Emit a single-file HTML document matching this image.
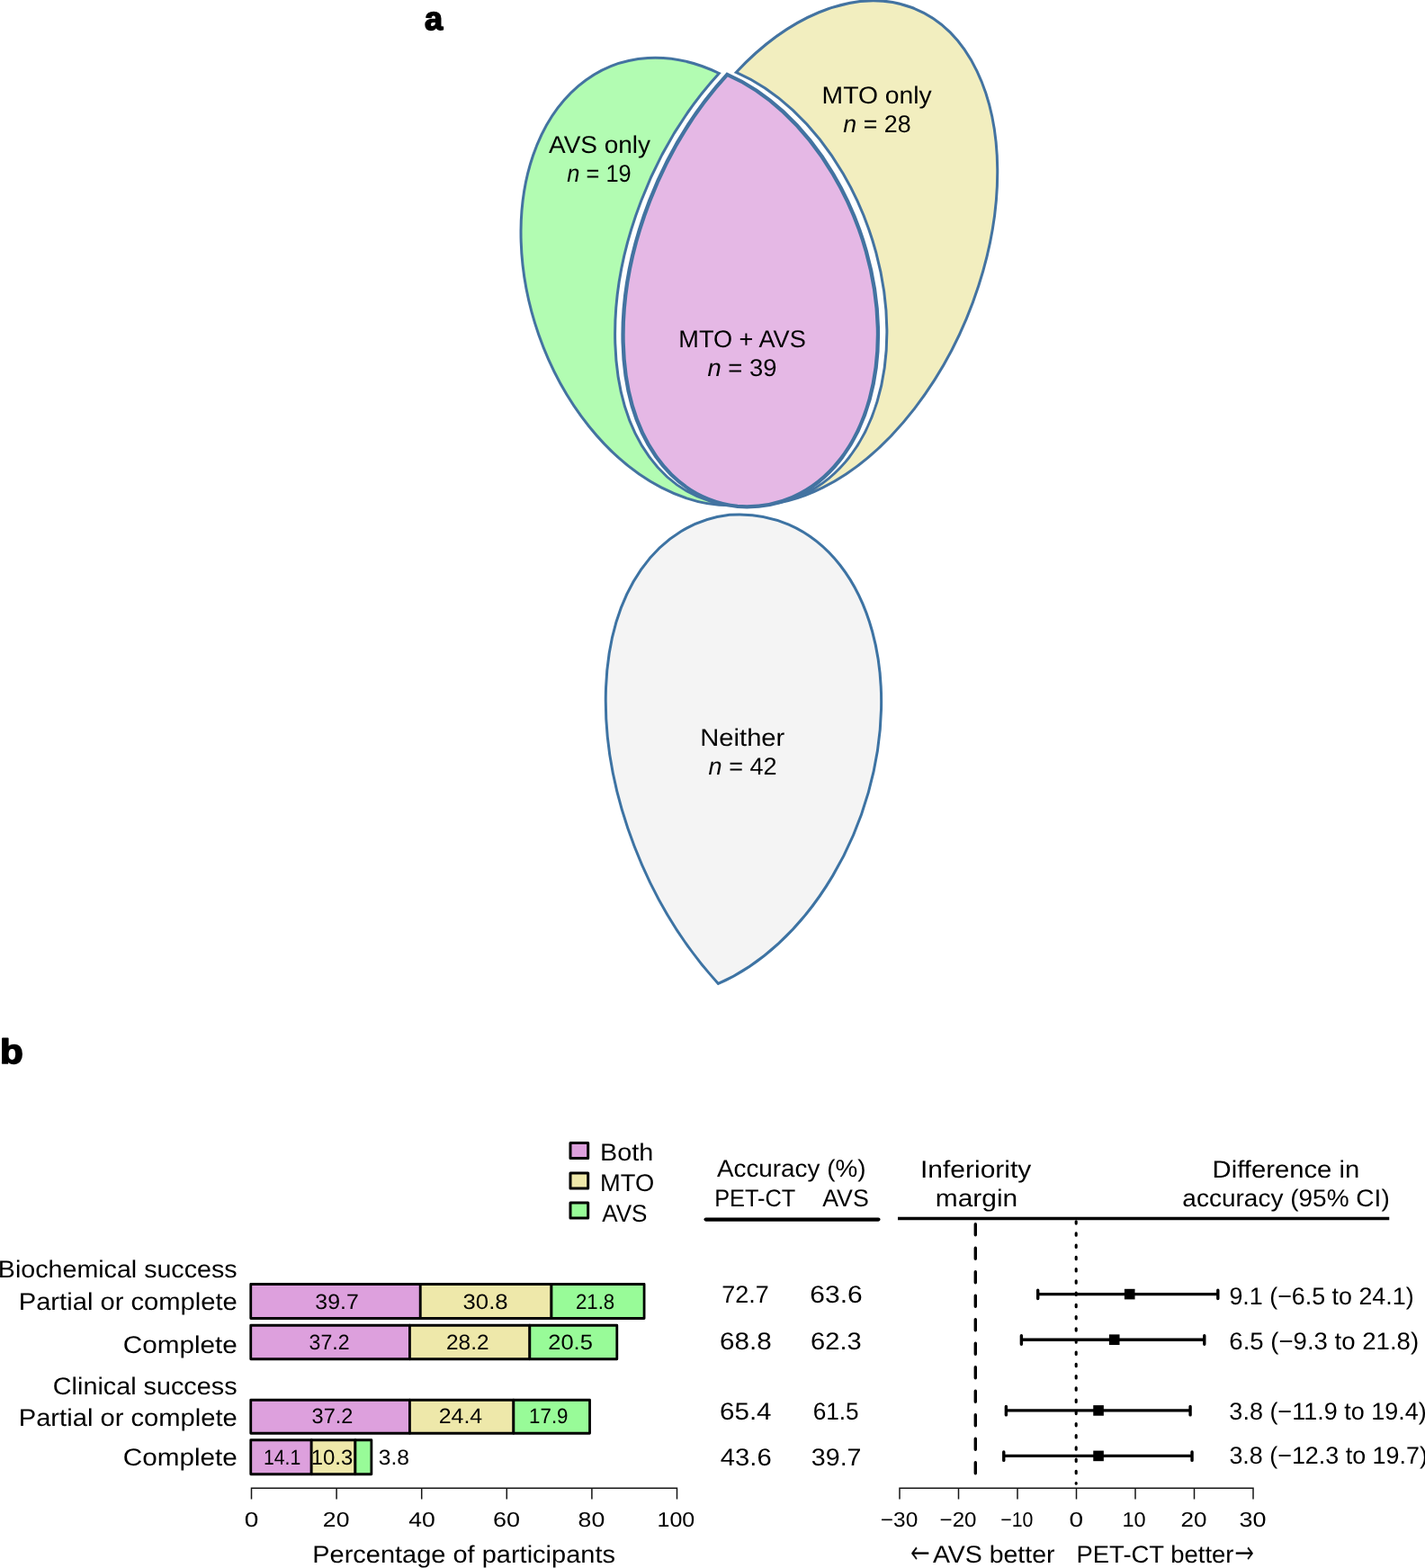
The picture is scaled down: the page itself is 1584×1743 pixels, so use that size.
<!DOCTYPE html>
<html lang="en">
<head>
<meta charset="utf-8">
<title>Figure</title>
<style>
html,body{margin:0;padding:0;background:#fff;}
body{width:1584px;height:1743px;overflow:hidden;}
svg{display:block;}
text{font-family:"Liberation Sans",sans-serif;fill:#000;text-rendering:geometricPrecision;}
</style>
</head>
<body>
<svg width="1584" height="1743" viewBox="0 0 1584 1743">
<rect width="1584" height="1743" fill="#fff"/>
<path d="M799.32 81.48A256.12 180.91 70.467 1 0 814.38 561.83A300.64 191.64 114.313 0 1 799.32 81.48Z" transform="translate(0.00 0.00)" fill="#b2fcb2" stroke="#4373a1" stroke-width="3.00" stroke-linejoin="miter" stroke-miterlimit="10"/>
<path d="M818.26 80.41A293.10 183.67 112.198 1 1 821.95 559.67A254.37 177.85 70.535 0 0 818.26 80.41Z" transform="translate(0.00 0.00)" fill="#f2eebf" stroke="#4373a1" stroke-width="3.00" stroke-linejoin="miter" stroke-miterlimit="10"/>
<path d="M808.31 82.89A300.64 191.64 114.313 0 0 819.86 562.97A254.37 177.85 70.535 0 0 808.31 82.89Z" fill="#e5b8e5" stroke="#4373a1" stroke-width="4.30" stroke-linejoin="miter" stroke-miterlimit="10"/>
<path d="M808.31 82.89A300.64 191.64 114.313 0 0 819.86 562.97A254.37 177.85 70.535 0 0 808.31 82.89Z" transform="translate(-75.38 1183.48) scale(1.0810 -1.0856)" fill="#f4f4f4" stroke="#3d73a3" stroke-width="3.00" stroke-linejoin="miter" stroke-miterlimit="10" vector-effect="non-scaling-stroke"/>
<text transform="translate(471.95 32.54) scale(1.0022 1)" font-size="36.13" font-weight="700" stroke="#000" stroke-width="1.60" stroke-linejoin="round">a</text>
<text transform="translate(-0.09 1181.62) scale(1.1054 1)" font-size="38.23" font-weight="700" stroke="#000" stroke-width="1.60" stroke-linejoin="round">b</text>
<text transform="translate(610.04 170.30) scale(1.0363 1.0000)" font-size="27.00">AVS only</text>
<text transform="translate(630.32 202.30) scale(0.9414 1.0000)" font-size="27.00"><tspan font-style="italic">n</tspan> = 19</text>
<text transform="translate(913.58 115.00) scale(1.0484 1.0000)" font-size="27.00">MTO only</text>
<text transform="translate(937.33 147.10) scale(0.9921 1.0000)" font-size="27.00"><tspan font-style="italic">n</tspan> = 28</text>
<text transform="translate(754.28 385.70) scale(1.0047 1.0000)" font-size="27.00">MTO + AVS</text>
<text transform="translate(786.49 417.90) scale(1.0156 1.0000)" font-size="27.00"><tspan font-style="italic">n</tspan> = 39</text>
<text transform="translate(778.31 829.00) scale(1.0797 1.0000)" font-size="27.00">Neither</text>
<text transform="translate(787.62 861.20) scale(1.0016 1.0000)" font-size="27.00"><tspan font-style="italic">n</tspan> = 42</text>
<rect x="634" y="1270.60" width="19.7" height="16.9" fill="#dda0dd" stroke="#000" stroke-width="3" stroke-linejoin="round"/>
<text transform="translate(666.94 1290.10) scale(1.0665 1.0000)" font-size="27.00">Both</text>
<rect x="634" y="1304.10" width="19.7" height="16.9" fill="#eee8aa" stroke="#000" stroke-width="3" stroke-linejoin="round"/>
<text transform="translate(667.06 1323.60) scale(1.0108 1.0000)" font-size="27.00">MTO</text>
<rect x="634" y="1337.10" width="19.7" height="16.9" fill="#98fb98" stroke="#000" stroke-width="3" stroke-linejoin="round"/>
<text transform="translate(669.25 1357.70) scale(0.9658 1.0000)" font-size="27.00">AVS</text>
<text transform="translate(-2.15 1419.55) scale(1.0602 1.0000)" font-size="27.00">Biochemical success</text>
<text transform="translate(20.71 1455.80) scale(1.0799 1.0000)" font-size="27.00">Partial or complete</text>
<text transform="translate(136.79 1503.80) scale(1.0992 1.0000)" font-size="27.00">Complete</text>
<text transform="translate(58.83 1550.10) scale(1.0659 1.0000)" font-size="27.00">Clinical success</text>
<text transform="translate(20.71 1585.30) scale(1.0799 1.0000)" font-size="27.00">Partial or complete</text>
<text transform="translate(136.79 1628.80) scale(1.0992 1.0000)" font-size="27.00">Complete</text>
<rect x="278.75" y="1427.50" width="188.53" height="38.00" fill="#dda0dd" stroke="#000" stroke-width="2.8" stroke-linejoin="round"/>
<rect x="467.28" y="1427.50" width="145.68" height="38.00" fill="#eee8aa" stroke="#000" stroke-width="2.8" stroke-linejoin="round"/>
<rect x="612.97" y="1427.50" width="103.11" height="38.00" fill="#98fb98" stroke="#000" stroke-width="2.8" stroke-linejoin="round"/>
<rect x="278.75" y="1473.25" width="176.71" height="37.50" fill="#dda0dd" stroke="#000" stroke-width="2.8" stroke-linejoin="round"/>
<rect x="455.46" y="1473.25" width="133.39" height="37.50" fill="#eee8aa" stroke="#000" stroke-width="2.8" stroke-linejoin="round"/>
<rect x="588.84" y="1473.25" width="96.96" height="37.50" fill="#98fb98" stroke="#000" stroke-width="2.8" stroke-linejoin="round"/>
<rect x="278.75" y="1556.25" width="176.71" height="37.00" fill="#dda0dd" stroke="#000" stroke-width="2.8" stroke-linejoin="round"/>
<rect x="455.46" y="1556.25" width="115.41" height="37.00" fill="#eee8aa" stroke="#000" stroke-width="2.8" stroke-linejoin="round"/>
<rect x="570.87" y="1556.25" width="84.67" height="37.00" fill="#98fb98" stroke="#000" stroke-width="2.8" stroke-linejoin="round"/>
<rect x="278.75" y="1600.75" width="67.44" height="38.00" fill="#dda0dd" stroke="#000" stroke-width="2.8" stroke-linejoin="round"/>
<rect x="346.19" y="1600.75" width="48.72" height="38.00" fill="#eee8aa" stroke="#000" stroke-width="2.8" stroke-linejoin="round"/>
<rect x="394.91" y="1600.75" width="17.97" height="38.00" fill="#98fb98" stroke="#000" stroke-width="2.8" stroke-linejoin="round"/>
<text transform="translate(350.30 1454.60) scale(1.0548 1.0000)" font-size="23.60">39.7</text>
<text transform="translate(514.52 1454.60) scale(1.0906 1.0000)" font-size="23.60">30.8</text>
<text transform="translate(639.89 1454.60) scale(0.9433 1.0000)" font-size="23.60">21.8</text>
<text transform="translate(343.62 1500.35) scale(0.9806 1.0000)" font-size="23.60">37.2</text>
<text transform="translate(496.03 1500.35) scale(1.0329 1.0000)" font-size="23.60">28.2</text>
<text transform="translate(609.23 1500.35) scale(1.0799 1.0000)" font-size="23.60">20.5</text>
<text transform="translate(346.61 1582.35) scale(0.9977 1.0000)" font-size="23.60">37.2</text>
<text transform="translate(487.75 1582.35) scale(1.0554 1.0000)" font-size="23.60">24.4</text>
<text transform="translate(588.05 1582.35) scale(0.9472 1.0000)" font-size="23.60">17.9</text>
<text transform="translate(292.88 1627.85) scale(0.9017 1.0000)" font-size="23.60">14.1</text>
<text transform="translate(345.68 1627.85) scale(1.0152 1.0000)" font-size="23.60">10.3</text>
<text transform="translate(420.81 1627.85) scale(1.0439 1.0000)" font-size="23.60">3.8</text>
<path d="M279.5 1666.5V1654.25H752.5V1666.5M374.1 1654.25V1666.5M468.7 1654.25V1666.5M563.3 1654.25V1666.5M657.9 1654.25V1666.5" fill="none" stroke="#151515" stroke-width="1.5"/>
<text transform="translate(271.81 1696.70) scale(1.2188 1.0000)" font-size="23.00">0</text>
<text transform="translate(358.87 1696.70) scale(1.1560 1.0000)" font-size="23.00">20</text>
<text transform="translate(454.29 1696.70) scale(1.1553 1.0000)" font-size="23.00">40</text>
<text transform="translate(547.92 1696.70) scale(1.1742 1.0000)" font-size="23.00">60</text>
<text transform="translate(642.55 1696.70) scale(1.1608 1.0000)" font-size="23.00">80</text>
<text transform="translate(730.50 1696.70) scale(1.0891 1.0000)" font-size="23.00">100</text>
<text transform="translate(347.22 1736.90) scale(1.0734 1.0000)" font-size="27.00">Percentage of participants</text>
<text transform="translate(796.94 1308.30) scale(1.0313 1.0000)" font-size="27.00">Accuracy (%)</text>
<text transform="translate(794.17 1341.30) scale(0.9391 1.0000)" font-size="27.00">PET-CT</text>
<text transform="translate(914.20 1341.30) scale(0.9905 1.0000)" font-size="27.00">AVS</text>
<path d="M784.6 1355.6H976.4" stroke="#000" stroke-width="4.3" stroke-linecap="round" fill="none"/>
<text transform="translate(802.23 1448.05) scale(0.9977 1.0000)" font-size="27.00">72.7</text>
<text transform="translate(900.37 1448.05) scale(1.1105 1.0000)" font-size="27.00">63.6</text>
<text transform="translate(799.99 1499.50) scale(1.0979 1.0000)" font-size="27.00">68.8</text>
<text transform="translate(901.12 1499.50) scale(1.0765 1.0000)" font-size="27.00">62.3</text>
<text transform="translate(799.99 1578.05) scale(1.0956 1.0000)" font-size="27.00">65.4</text>
<text transform="translate(903.66 1578.05) scale(0.9714 1.0000)" font-size="27.00">61.5</text>
<text transform="translate(800.83 1628.75) scale(1.0821 1.0000)" font-size="27.00">43.6</text>
<text transform="translate(901.81 1628.75) scale(1.0605 1.0000)" font-size="27.00">39.7</text>
<text transform="translate(1022.99 1308.80) scale(1.1107 1.0000)" font-size="27.00">Inferiority</text>
<text transform="translate(1039.78 1341.30) scale(1.1076 1.0000)" font-size="27.00">margin</text>
<text transform="translate(1347.60 1308.80) scale(1.0824 1.0000)" font-size="27.00">Difference in</text>
<text transform="translate(1314.32 1341.30) scale(1.0375 1.0000)" font-size="27.00">accuracy (95% CI)</text>
<path d="M998 1354.5H1544.25" stroke="#000" stroke-width="3.4" fill="none"/>
<path d="M1084.3 1360.8V1638" stroke="#000" stroke-width="3.4" stroke-linecap="round" stroke-dasharray="12 14.5" fill="none"/>
<path d="M1196.20 1357.7V1649.3" stroke="#000" stroke-width="3.1" stroke-linecap="round" stroke-dasharray="2.4 10.82" fill="none"/>
<path d="M1153.69 1438.60H1353.81M1153.69 1434.20v9.4M1353.81 1434.20v9.4" stroke="#000" stroke-width="3.4" stroke-linecap="round" fill="none"/>
<rect x="1249.91" y="1432.80" width="11.6" height="11.6" fill="#000"/>
<path d="M1135.38 1489.20H1338.77M1135.38 1484.80v9.4M1338.77 1484.80v9.4" stroke="#000" stroke-width="3.4" stroke-linecap="round" fill="none"/>
<rect x="1232.91" y="1483.40" width="11.6" height="11.6" fill="#000"/>
<path d="M1118.37 1567.90H1323.08M1118.37 1563.50v9.4M1323.08 1563.50v9.4" stroke="#000" stroke-width="3.4" stroke-linecap="round" fill="none"/>
<rect x="1215.25" y="1562.10" width="11.6" height="11.6" fill="#000"/>
<path d="M1115.76 1618.40H1325.04M1115.76 1614.00v9.4M1325.04 1614.00v9.4" stroke="#000" stroke-width="3.4" stroke-linecap="round" fill="none"/>
<rect x="1215.25" y="1612.60" width="11.6" height="11.6" fill="#000"/>
<path d="M1000 1666.5V1654.25H1393V1666.5M1065.5 1654.25V1666.5M1131 1654.25V1666.5M1196.5 1654.25V1666.5M1262 1654.25V1666.5M1327.5 1654.25V1666.5" fill="none" stroke="#151515" stroke-width="1.5"/>
<text transform="translate(978.80 1696.70) scale(1.0613 1.0000)" font-size="23.00">−30</text>
<text transform="translate(1044.57 1696.70) scale(1.0478 1.0000)" font-size="23.00">−20</text>
<text transform="translate(1112.21 1696.70) scale(0.9261 1.0000)" font-size="23.00">−10</text>
<text transform="translate(1188.41 1696.70) scale(1.2188 1.0000)" font-size="23.00">0</text>
<text transform="translate(1247.41 1696.70) scale(1.0248 1.0000)" font-size="23.00">10</text>
<text transform="translate(1312.50 1696.70) scale(1.1305 1.0000)" font-size="23.00">20</text>
<text transform="translate(1377.58 1696.70) scale(1.1720 1.0000)" font-size="23.00">30</text>
<text transform="translate(1012.35 1737.40) scale(0.8470 1.1007)" font-size="30" font-weight="200" stroke="#000" stroke-width="0.5" style="font-family:'DejaVu Sans','Liberation Sans',sans-serif">←</text>
<text transform="translate(1036.94 1737.20) scale(1.0542 1.0000)" font-size="27.00">AVS better</text>
<text transform="translate(1196.50 1737.20) scale(1.0168 1.0000)" font-size="27.00">PET-CT better</text>
<text transform="translate(1372.55 1737.40) scale(0.8470 1.1007)" font-size="30" font-weight="200" stroke="#000" stroke-width="0.5" style="font-family:'DejaVu Sans','Liberation Sans',sans-serif">→</text>
<text transform="translate(1366.44 1450.10) scale(0.9939 1.0000)" font-size="27.00">9.1 (−6.5 to 24.1)</text>
<text transform="translate(1366.29 1499.70) scale(1.0215 1.0000)" font-size="27.00">6.5 (−9.3 to 21.8)</text>
<text transform="translate(1366.37 1578.10) scale(0.9995 1.0000)" font-size="27.00">3.8 (−11.9 to 19.4)</text>
<text transform="translate(1366.38 1627.40) scale(0.9959 1.0000)" font-size="27.00">3.8 (−12.3 to 19.7)</text>
</svg>
</body>
</html>
